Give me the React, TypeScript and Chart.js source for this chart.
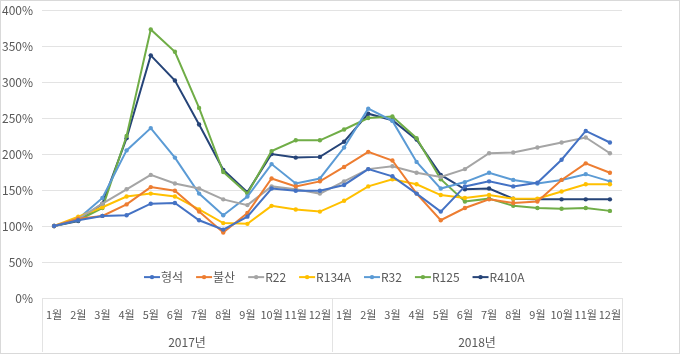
import React, { useEffect, useRef } from 'react';
import { Chart, registerables } from 'chart.js';

Chart.register(...registerables);

const monthLabels = ['1월', '2월', '3월', '4월', '5월', '6월', '7월', '8월', '9월', '10월', '11월', '12월', '1월', '2월', '3월', '4월', '5월', '6월', '7월', '8월', '9월', '10월', '11월', '12월'];
const yearLabels = ['2017년', '2018년'];

const hyeongseok = [100, 108, 114, 115, 131, 132, 108, 95, 113, 152, 149, 149, 157, 179, 169, 145, 120, 155, 162, 155, 160, 192, 232, 216];
const bulsan = [100, 110, 114, 130, 154, 149, 120, 91, 118, 166, 155, 162, 182, 203, 191, 145, 108, 125, 137, 132, 134, 164, 187, 174];
const r22 = [100, 110, 131, 151, 171, 159, 152, 137, 129, 155, 151, 145, 162, 179, 183, 174, 168, 179, 201, 202, 209, 216, 223, 201];
const r134a = [100, 113, 126, 141, 145, 141, 123, 104, 103, 128, 123, 120, 135, 155, 165, 158, 143, 139, 143, 138, 138, 148, 158, 158];
const r32 = [100, 110, 139, 205, 236, 195, 145, 115, 141, 186, 159, 166, 209, 263, 246, 189, 152, 161, 174, 164, 159, 164, 172, 162];
const r125 = [100, 108, 125, 225, 373, 342, 264, 175, 145, 204, 219, 219, 234, 250, 252, 222, 165, 134, 138, 128, 125, 124, 125, 121];
const r410a = [100, 107, 131, 222, 337, 302, 241, 178, 147, 200, 195, 196, 217, 256, 247, 220, 171, 151, 152, 138, 137, 137, 137, 137];

const seriesNames = ['형석', '불산', 'R22', 'R134A', 'R32', 'R125', 'R410A'];
const seriesColors = ['#4472C4', '#ED7D31', '#A5A5A5', '#FFC000', '#5B9BD5', '#70AD47', '#264478'];
const seriesValues = [hyeongseok, bulsan, r22, r134a, r32, r125, r410a];

const FONT = '"Noto Sans CJK KR", "Noto Sans", sans-serif';
const TEXT = '#595959';
const GRID = '#e3e3e3';

const yearAxisPlugin = {
  id: 'yearAxis',
  afterDraw(chart: any) {
    const { ctx, chartArea, scales } = chart;
    const x = scales.x;
    const bottom = chart.height - 1;
    const mid = (x.getPixelForValue(11) + x.getPixelForValue(12)) / 2;
    ctx.save();
    ctx.strokeStyle = GRID;
    ctx.lineWidth = 1;
    [chartArea.left, mid, chartArea.right].forEach((px: number) => {
      const p = Math.round(px) + 0.5;
      ctx.beginPath();
      ctx.moveTo(p, chartArea.bottom);
      ctx.lineTo(p, bottom);
      ctx.stroke();
    });
    ctx.fillStyle = TEXT;
    ctx.font = `12px ${FONT}`;
    ctx.textAlign = 'center';
    ctx.textBaseline = 'middle';
    yearLabels.forEach((lab, i) => {
      const cx = (x.getPixelForValue(i * 12) + x.getPixelForValue(i * 12 + 11)) / 2;
      ctx.fillText(lab, cx, chartArea.bottom + 44);
    });
    ctx.restore();
  },
};

const legendPlugin = {
  id: 'insideLegend',
  afterDatasetsDraw(chart: any) {
    const { ctx, chartArea, scales } = chart;
    const y = scales.y.getPixelForValue(29);
    let cx = chartArea.left + 102;
    ctx.save();
    ctx.font = `12px ${FONT}`;
    ctx.textBaseline = 'middle';
    ctx.textAlign = 'left';
    seriesNames.forEach((name, i) => {
      ctx.strokeStyle = seriesColors[i];
      ctx.fillStyle = seriesColors[i];
      ctx.lineWidth = 2;
      ctx.beginPath();
      ctx.moveTo(cx, y);
      ctx.lineTo(cx + 16, y);
      ctx.stroke();
      ctx.beginPath();
      ctx.arc(cx + 8, y, 2.2, 0, Math.PI * 2);
      ctx.fill();
      ctx.fillStyle = TEXT;
      ctx.fillText(name, cx + 17, y);
      cx += 17 + ctx.measureText(name).width + 13;
    });
    ctx.restore();
  },
};

export default function App() {
  const ref = useRef<HTMLCanvasElement | null>(null);

  useEffect(() => {
    document.body.style.margin = '0';
    const canvas = ref.current;
    if (!canvas) return;
    const chart = new Chart(canvas, {
      type: 'line',
      data: {
        labels: monthLabels,
        datasets: seriesNames.map((name, i) => ({
          label: name,
          data: seriesValues[i],
          borderColor: seriesColors[i],
          backgroundColor: seriesColors[i],
          borderWidth: 2,
          pointRadius: 2.2,
          pointHoverRadius: 2.2,
          pointBorderWidth: 0,
          tension: 0,
          fill: false,
        })),
      },
      options: {
        responsive: false,
        animation: false,
        devicePixelRatio: 1,
        layout: { padding: { top: 9, right: 57, left: 0, bottom: 0 } },
        plugins: {
          legend: { display: false },
          tooltip: { enabled: false },
        },
        scales: {
          x: {
            type: 'category',
            offset: true,
            grid: { display: false, drawTicks: false },
            border: { display: false },
            ticks: {
              color: TEXT,
              font: { family: FONT, size: 11 },
              maxRotation: 0,
              autoSkip: false,
              padding: 10,
            },
            afterFit(scale: any) {
              scale.height = 55;
              scale.paddingLeft = 0;
              scale.paddingRight = 0;
            },
          },
          y: {
            min: 0,
            max: 400,
            grid: { color: GRID, drawTicks: false, lineWidth: 1 },
            border: { display: false },
            ticks: {
              stepSize: 50,
              color: TEXT,
              font: { family: FONT, size: 12 },
              padding: 9,
              callback: (v: any) => `${v}%`,
            },
            afterFit(scale: any) {
              scale.width = 41;
              scale.paddingTop = 0;
              scale.paddingBottom = 0;
            },
          },
        },
      },
      plugins: [yearAxisPlugin, legendPlugin],
    });
    return () => chart.destroy();
  }, []);

  return (
    <div style={{ width: 680, height: 354, boxSizing: 'border-box', border: '1px solid #d9d9d9', background: '#fff' }}>
      <canvas ref={ref} width={678} height={352} style={{ display: 'block' }} />
    </div>
  );
}
